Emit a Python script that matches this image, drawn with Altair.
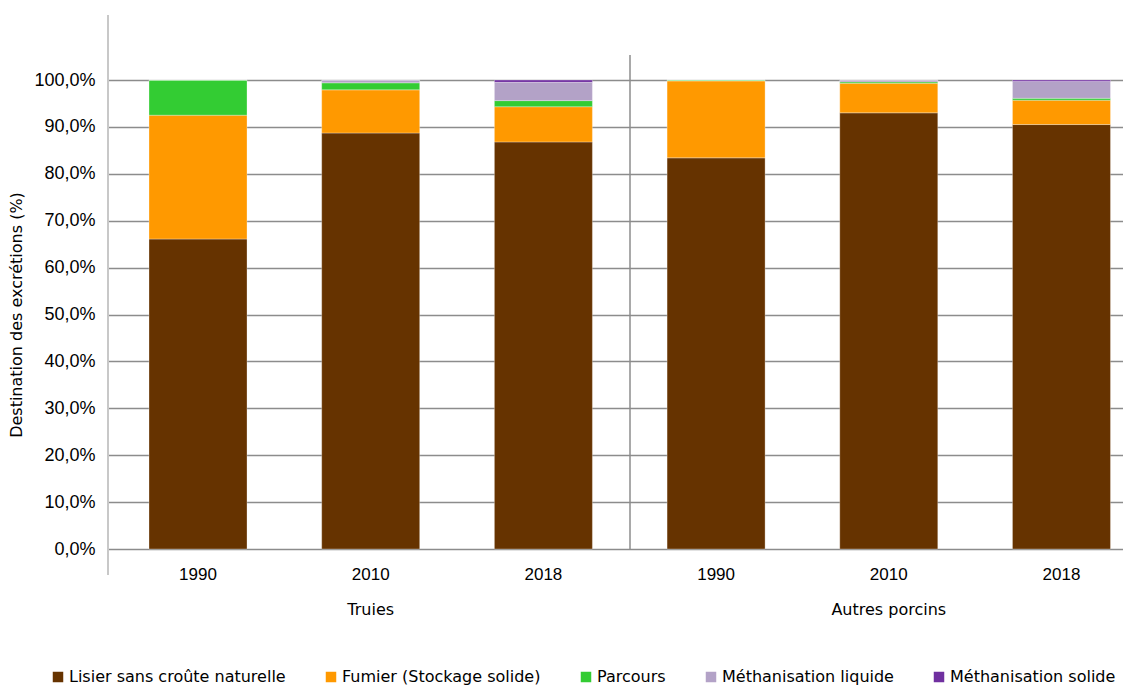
import altair as alt
import pandas as pd

groups = ["Truies", "Truies", "Truies", "Autres porcins", "Autres porcins", "Autres porcins"]
years = ["1990", "2010", "2018", "1990", "2010", "2018"]
categories = ["Lisier sans croûte naturelle", "Fumier (Stockage solide)", "Parcours",
              "Méthanisation liquide", "Méthanisation solide"]
colors = ["#663300", "#FF9900", "#33CC33", "#B3A2C7", "#7030A0"]
lisier = [66.1, 88.7, 86.8, 83.4, 93.0, 90.5]
fumier = [26.4, 9.2, 7.5, 16.4, 6.3, 5.2]
parcours = [7.5, 1.5, 1.3, 0.2, 0.3, 0.4]
meth_liq = [0.0, 0.6, 3.9, 0.0, 0.4, 3.6]
meth_sol = [0.0, 0.0, 0.5, 0.0, 0.0, 0.3]
y_ticks = [0, 10, 20, 30, 40, 50, 60, 70, 80, 90, 100]

series = [lisier, fumier, parcours, meth_liq, meth_sol]
rows = []
for ci, (cat, vals) in enumerate(zip(categories, series)):
    for g, yr, v in zip(groups, years, vals):
        rows.append({"key": f"{g}|{yr}", "cat": cat, "idx": ci, "value": v})
df = pd.DataFrame(rows)
keys = [f"{g}|{y}" for g, y in zip(groups, years)]

FONT = "DejaVu Sans"
NUMFONT = "Liberation Sans"
W, H = 1015, 469
xscale = alt.Scale(domain=keys, paddingInner=0.4325, paddingOuter=0.155, align=0.766)

bars = alt.Chart(df).mark_bar(stroke="#ffffff", strokeWidth=0.6, strokeOpacity=0.5).encode(
    x=alt.X("key:N", scale=xscale, sort=keys, title=None,
            axis=alt.Axis(labelExpr="split(datum.label,'|')[1]", ticks=False, domain=False,
                          labelAngle=0, labelPadding=17, labelFontSize=17, labelFont=NUMFONT,
                          labelColor="#000000")),
    y=alt.Y("value:Q", stack="zero", scale=alt.Scale(domain=[0, 100], nice=False),
            title="Destination des excrétions (%)",
            axis=alt.Axis(values=y_ticks, grid=True, gridColor="#8c8c8c", gridWidth=1.5,
                          domain=False, ticks=False, labelPadding=13, labelFontSize=18,
                          labelFont=NUMFONT, labelColor="#000000",
                          labelExpr="replace(format(datum.value,'.1f'),'.',',')+'%'",
                          titleFont=FONT, titleFontSize=16, titleFontWeight="normal",
                          titleColor="#000000", titlePadding=9)),
    color=alt.Color("cat:N", scale=alt.Scale(domain=categories, range=colors),
                    legend=alt.Legend(title=None, orient="none", direction="horizontal",
                                      legendX=-58, legendY=589, columns=5, columnPadding=37,
                                      symbolType="square", symbolSize=110, symbolStrokeWidth=0,
                                      labelFont=FONT, labelFontSize=16, labelColor="#000000",
                                      labelOffset=3, labelLimit=0)),
    order=alt.Order("idx:Q", sort="ascending"),
)

glabels = pd.DataFrame({"key": ["Truies|2010", "Autres porcins|2010"], "label": ["Truies", "Autres porcins"]})
group_text = alt.Chart(glabels).mark_text(font=FONT, fontSize=16, color="#000000", baseline="middle").encode(
    x=alt.X("key:N", scale=xscale, sort=keys),
    y=alt.value(H + 61),
    text="label:N",
)

axis_line = alt.Chart(pd.DataFrame({"a": [0]})).mark_rule(color="#c8c8c8", strokeWidth=2).encode(
    x=alt.value(0), y=alt.value(-65), y2=alt.value(H + 26))
divider = alt.Chart(pd.DataFrame({"a": [0]})).mark_rule(color="#8c8c8c", strokeWidth=1.5).encode(
    x=alt.value(522), y=alt.value(-25), y2=alt.value(H + 1))

chart = alt.layer(bars, group_text, axis_line, divider).properties(
    width=W, height=H, padding={"left": 0, "top": 6, "right": 0, "bottom": 5}
).configure_view(stroke=None).configure(background="#ffffff")

chart.save("out.html", embed_options={"renderer": "svg", "actions": False})
